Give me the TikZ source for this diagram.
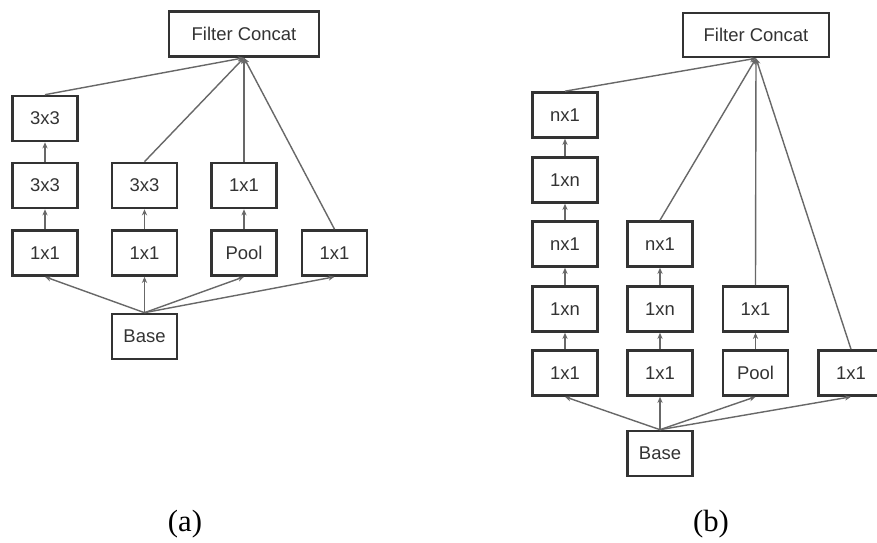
\documentclass[tikz,border=0pt]{standalone}
\usepackage{fontspec}
\setmainfont{Liberation Sans}
\newfontfamily\capfont{Liberation Serif}
\usepackage{tikz}
\usetikzlibrary{positioning, arrows.meta}

\definecolor{boxline}{HTML}{333333}
\definecolor{linkline}{HTML}{686868}

\begin{document}
\begin{tikzpicture}[x=0.02cm, y=-0.02cm,
  blk/.style={draw=boxline, line width=1.5pt, fill=white, minimum width=1.3cm,
    minimum height=0.9cm, inner sep=0pt, text=black!80,
    font=\fontsize{10.5}{12}\selectfont},
  wideblk/.style={blk, minimum width=3cm},
  link/.style={draw=linkline, line width=0.8pt, -{Stealth[length=3.5pt, width=3pt]}},
  captxt/.style={font=\capfont\fontsize{17.5}{20}\selectfont}]
\useasboundingbox[fill=white] (0,0) rectangle (877,543);

% (a) inception module
\node[wideblk] (fcA) at (244,34) {Filter Concat};
\node[blk] (a13) at (45,118.5) {3x3};
\node[blk] (a12) at (45,185.5) {3x3};
\node[blk] (a11) at (45,253) {1x1};
\node[blk] (a22) at (144.5,185.5) {3x3};
\node[blk] (a21) at (144.5,253) {1x1};
\node[blk] (a32) at (244,185.5) {1x1};
\node[blk] (a31) at (244,253) {Pool};
\node[blk] (a41) at (334.5,253) {1x1};
\node[blk] (baseA) at (144.5,336.5) {Base};

\draw[link] (baseA.north) -- (a11.south);
\draw[link] (baseA.north) -- (a21.south);
\draw[link] (baseA.north) -- (a31.south);
\draw[link] (baseA.north) -- (a41.south);
\draw[link] (a11) -- (a12);
\draw[link] (a12) -- (a13);
\draw[link] (a21) -- (a22);
\draw[link] (a31) -- (a32);
\draw[link] (a13.north) -- (fcA.south);
\draw[link] (a22.north) -- (fcA.south);
\draw[link] (a32.north) -- (fcA.south);
\draw[link] (a41.north) -- (fcA.south);

% (b) factorised module
\node[wideblk, minimum width=2.92cm, minimum height=0.88cm] (fcB) at (756,35) {Filter Concat};
\begin{scope}[every node/.append style={minimum width=1.28cm, minimum height=0.88cm}]
\node[blk] (b15) at (565,115) {nx1};
\node[blk] (b14) at (565,180) {1xn};
\node[blk] (b13) at (565,244) {nx1};
\node[blk] (b12) at (565,309) {1xn};
\node[blk] (b11) at (565,373) {1x1};
\node[blk] (b23) at (660,244) {nx1};
\node[blk] (b22) at (660,309) {1xn};
\node[blk] (b21) at (660,373) {1x1};
\node[blk] (b32) at (755.5,309) {1x1};
\node[blk] (b31) at (755.5,373) {Pool};
\node[blk] (b41) at (851,373) {1x1};
\node[blk] (baseB) at (660,453.5) {Base};
\end{scope}

\draw[link] (baseB.north) -- (b11.south);
\draw[link] (baseB.north) -- (b21.south);
\draw[link] (baseB.north) -- (b31.south);
\draw[link] (baseB.north) -- (b41.south);
\draw[link] (b11) -- (b12);
\draw[link] (b12) -- (b13);
\draw[link] (b13) -- (b14);
\draw[link] (b14) -- (b15);
\draw[link] (b21) -- (b22);
\draw[link] (b22) -- (b23);
\draw[link] (b31) -- (b32);
\draw[link] (b15.north) -- (fcB.south);
\draw[link] (b23.north) -- (fcB.south);
\draw[link] (b32.north) -- (fcB.south);
\draw[link] (b41.north) -- (fcB.south);

% captions
\node[captxt] (capA) at (185,524) {(a)};
\node[captxt] (capB) at (711,524) {(b)};
\end{tikzpicture}
\end{document}
